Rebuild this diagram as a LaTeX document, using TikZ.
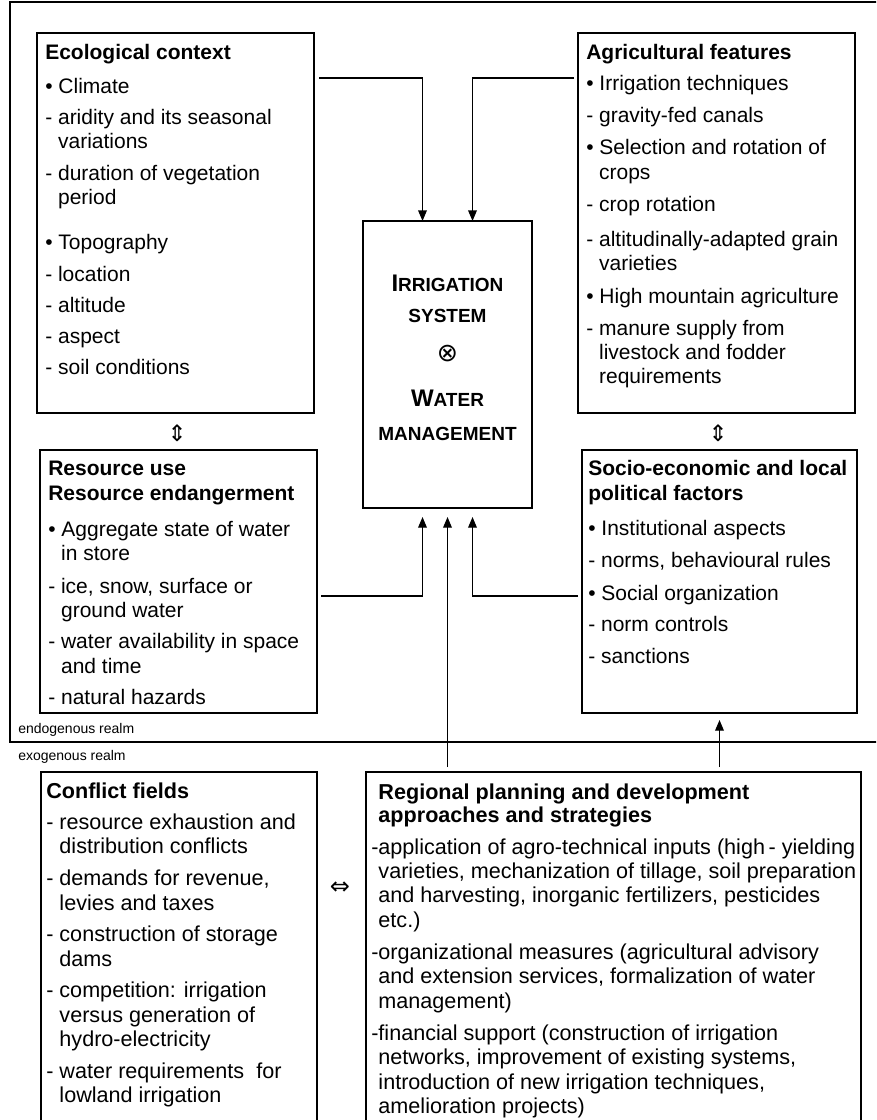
\documentclass[tikz,border=0pt]{standalone}
\usepackage{fontspec}
\setmainfont{Liberation Sans}
\newfontfamily\symfont{DejaVu Sans}
\usetikzlibrary{arrows.meta,fit,calc}
\tikzset{
  box/.style={draw,line width=1.9pt,inner sep=0pt,outer sep=0pt},
  conn/.style={line width=1pt,-{Triangle[length=8pt,width=6.5pt]}},
  realmline/.style={line width=0.8pt},
  txt/.style={anchor=base west,inner sep=0pt,font=\fontsize{15.75pt}{18pt}\selectfont},
  txtB/.style={anchor=base west,inner sep=0pt,font=\fontsize{16.2pt}{18pt}\selectfont},
  realm/.style={anchor=base west,inner sep=0pt,font=\fontsize{10.5pt}{12pt}\selectfont},
  ctxt/.style={anchor=base,inner sep=0pt,font=\bfseries},
  sym/.style={inner sep=0pt,font=\symfont\fontsize{17pt}{17pt}\selectfont},
}
\newcommand\scBig[1]{{\fontsize{18pt}{18pt}\selectfont #1}}
\newcommand\scSml[1]{{\fontsize{14.25pt}{15pt}\selectfont #1}}
\newcommand\boxtext[4][txt]{%
  \foreach \lineY/\lineT [count=\lineN] in {#4}{\node[#1] (#2-\lineN) at (#3,\lineY) {\lineT};}}
\begin{document}
\begin{tikzpicture}[x=0.75pt,y=-0.75pt]
\useasboundingbox (0,0) rectangle (876,1120);
\fill[white] (0,0) rectangle (876,1120);
\clip (0,0) rectangle (876,1120);

% endogenous realm frame
\draw[realmline] (885,2) -- (10,2) -- (10,742) -- (885,742);
\node[realm] (endo) at (18,733) {endogenous realm};
\node[realm] (exo) at (18,760) {exogenous realm};

% boxes
\node[box, fit={(37,33) (314,413)}] (eco) {};
\node[box, fit={(578,33) (855,413)}] (agr) {};
\node[box, fit={(363,221) (532,508)}] (cen) {};
\node[box, fit={(40,450) (317,713)}] (res) {};
\node[box, fit={(582,450) (857,713)}] (soc) {};
\node[box, fit={(41,772) (317,1140)}] (con) {};
\node[box, fit={(366,772) (861,1140)}] (reg) {};

% texts
\boxtext{ecoT}{45}{59.5/{\textbf{Ecological context}},
  93.5/{• Climate},
  124.5/{- aridity and its seasonal},
  148.5/{\phantom{- }variations},
  180.5/{- duration of vegetation},
  204.5/{\phantom{- }period},
  249.5/{• Topography},
  281.5/{- location},
  312.5/{- altitude},
  343.5/{- aspect},
  374.5/{- soil conditions}}

\boxtext{agrT}{586}{59.5/{\textbf{Agricultural features}},
  90.5/{• Irrigation techniques},
  122.5/{- gravity-fed canals},
  154.5/{• Selection and rotation of},
  179.5/{\phantom{- }crops},
  211.5/{- crop rotation},
  246.5/{- altitudinally-adapted grain},
  270.5/{\phantom{- }varieties},
  303.5/{• High mountain agriculture},
  335.5/{- manure supply from},
  359.5/{\phantom{- }livestock and fodder},
  383.5/{\phantom{- }requirements}}

\boxtext{resT}{48}{475.5/{\textbf{Resource use}},
  500.5/{\textbf{Resource endangerment}},
  536.5/{• Aggregate state of water},
  560.5/{\phantom{- }in store},
  593.5/{- ice, snow, surface or},
  617.5/{\phantom{- }ground water},
  648.5/{- water availability in space},
  673.5/{\phantom{- }and time},
  704.5/{- natural hazards}}

\boxtext{socT}{588}{475.5/{\textbf{Socio-economic and local}},
  500.5/{\textbf{political factors}},
  535.5/{• Institutional aspects},
  567.5/{- norms, behavioural rules},
  600.5/{• Social organization},
  631.5/{- norm controls},
  663.5/{- sanctions}}

\boxtext[txtB]{conT}{46}{798.5/{\textbf{Conflict fields}},
  829.5/{- resource exhaustion and},
  853.5/{\phantom{- }distribution conflicts},
  885.5/{- demands for revenue,},
  910.5/{\phantom{- }levies and taxes},
  941.5/{- construction of storage},
  966.5/{\phantom{- }dams},
  997.5/{- competition: irrigation},
  1022.5/{\phantom{- }versus generation of},
  1046.5/{\phantom{- }hydro-electricity},
  1078.5/{- water requirements\ \ for},
  1102.5/{\phantom{- }lowland irrigation}}

\boxtext[txtB]{regT}{371}{799/{\phantom{-}\textbf{Regional planning and development}},
  822/{\phantom{-}\textbf{approaches and strategies}},
  854/{-application of agro-technical inputs (high\,- yielding},
  878/{\phantom{-}varieties, mechanization of tillage, soil preparation},
  902/{\phantom{-}and harvesting, inorganic fertilizers, pesticides},
  927/{\phantom{-}etc.)},
  959/{-organizational measures (agricultural advisory},
  983/{\phantom{-}and extension services, formalization of water},
  1008/{\phantom{-}management)},
  1040/{-financial support (construction of irrigation},
  1064/{\phantom{-}networks, improvement of existing systems,},
  1089/{\phantom{-}introduction of new irrigation techniques,},
  1113/{\phantom{-}amelioration projects)}}

% centre text
\node[ctxt] (c1) at (447.5,291.5) {\scBig{I}\scSml{RRIGATION}};
\node[ctxt] (c2) at (447.5,322.5) {\scSml{SYSTEM}};
\node[sym,font=\symfont\fontsize{19pt}{19pt}\selectfont] (c3) at (447.5,353.5) {⊗};
\node[ctxt] (c4) at (447.5,406.5) {\scBig{W}\scSml{ATER}};
\node[ctxt] (c5) at (447.5,440) {\scSml{MANAGEMENT}};

% double arrows
\node[sym] (ud1) at (177,433) {⇕};
\node[sym] (ud2) at (718,433) {⇕};
\node[sym,font=\symfont\fontsize{18pt}{18pt}\selectfont] (lr) at (340,888) {⇔};

% connectors
\draw[conn] ($(eco.north east)+(5,45)$) -| ($(cen.north)+(-25,0)$);
\draw[conn] ($(agr.north west)+(-4,45)$) -| ($(cen.north)+(25,0)$);
\draw[conn] ($(res.north east)+(4,146)$) -| ($(cen.south)+(-25,9)$);
\draw[conn] ($(soc.north west)+(-4,146)$) -| ($(cen.south)+(25,9)$);
\draw[conn] ($(reg.north -| cen.south)+(0,-5)$) -- ($(cen.south)+(0,9)$);
\draw[conn] ($(reg.north -| soc.south)+(0,-5)$) -- ($(soc.south)+(0,7)$);
\end{tikzpicture}
\end{document}
